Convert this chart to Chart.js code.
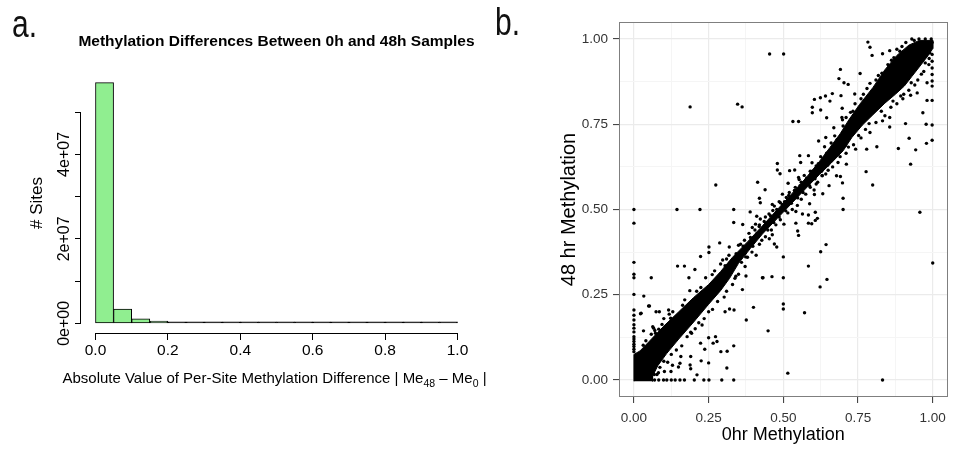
<!DOCTYPE html>
<html>
<head>
<meta charset="utf-8">
<script src="https://cdn.jsdelivr.net/npm/chart.js@4.4.0/dist/chart.umd.min.js"></script>
<style>
  html, body { margin: 0; padding: 0; background: #fff; }
  #wrap { position: relative; width: 953px; height: 452px; overflow: hidden;
          font-family: "Liberation Sans", Arial, Helvetica, sans-serif; }
  canvas { position: absolute; top: 0; }
  #histCanvas { left: 0; }
  #scatCanvas { left: 490px; }
  .panel-tag { position: absolute; font-size: 30px; line-height: 1; color: #111;
               transform-origin: 0 0; transform: scaleY(1.3); }
</style>
</head>
<body>
<div id="wrap">
  <canvas id="histCanvas" width="490" height="452"></canvas>
  <canvas id="scatCanvas" width="463" height="452"></canvas>
  <div class="panel-tag" style="left:12px; top:4px;">a.</div>
  <div class="panel-tag" style="left:495px; top:2px;">b.</div>
</div>
<script>
const FONT = '"Liberation Sans", Arial, Helvetica, sans-serif';
Chart.defaults.font.family = FONT;
Chart.defaults.color = '#000';

// ---------- panel a: histogram of |Me48 - Me0| (bin width 0.05) ----------
const diffBinCentres = [0.025, 0.075, 0.125, 0.175, 0.225, 0.275, 0.325, 0.375, 0.425, 0.475,
                        0.525, 0.575, 0.625, 0.675, 0.725, 0.775, 0.825, 0.875, 0.925, 0.975];
const siteCounts = [5.70e7, 3.4e6, 1.05e6, 5.5e5, 2.8e5, 1.4e5, 8e4, 6e4, 4e4, 3e4,
                    2e4, 1.5e4, 1.2e4, 1e4, 8e3, 7e3, 6e3, 5e3, 5e3, 6e3];
const diffTicks = [0, 0.2, 0.4, 0.6, 0.8, 1.0];
const countTicks = [0, 1e7, 2e7, 3e7, 4e7, 5e7];
const countTickLabels = ['0e+00', '', '2e+07', '', '4e+07', ''];

// ---------- panel b: per-site methylation, 0 hr vs 48 hr ----------
const methTicks = [0, 0.125, 0.25, 0.375, 0.5, 0.625, 0.75, 0.875, 1];

// outline of the over-plotted core where points merge into solid black [0hr, 48hr]
const denseBandOutline = [
  [0.0,-0.004],[0.0,0.075],[0.02,0.085],[0.05,0.112],[0.1,0.158],[0.15,0.2],[0.2,0.242],
  [0.25,0.28],[0.29,0.318],[0.33,0.36],[0.38,0.405],[0.43,0.452],[0.48,0.5],[0.53,0.548],
  [0.575,0.592],[0.62,0.64],[0.656,0.682],[0.69,0.722],[0.72,0.764],[0.755,0.808],[0.8,0.858],
  [0.84,0.91],[0.88,0.952],[0.92,0.982],[0.955,0.996],[1.0,0.996],
  [1.0,0.972],[0.985,0.952],[0.955,0.918],[0.93,0.89],[0.905,0.862],[0.875,0.838],[0.84,0.812],
  [0.8,0.778],[0.765,0.748],[0.73,0.712],[0.7,0.672],[0.66,0.636],[0.62,0.602],[0.58,0.566],
  [0.53,0.52],[0.48,0.474],[0.43,0.428],[0.39,0.386],[0.35,0.342],[0.32,0.298],[0.29,0.262],
  [0.25,0.222],[0.2,0.17],[0.15,0.12],[0.11,0.078],[0.08,0.042],[0.063,0.012],[0.062,-0.004]
];

// sites sitting on the 0 / 1 limits
const boundarySites = [
  [0,0.5],[0,0.46],[0,0.345],[0,0.31],[0,0.3],[0,0.251],[0,0.205],[0,0.19],[0,0.176],[0,0.162],
  [0,0.152],[0,0.141],[0,0.127],[0,0.12],[0,0.113],[0,0.105],[0,0.098],[0,0.09],[0,0.083],
  [0.069,0],[0.083,0],[0.099,0],[0.11,0],[0.125,0],[0.138,0],[0.154,0],[0.169,0],[0.202,0],
  [0.234,0],[0.251,0],[0.294,0],[0.334,0],[0.832,0],
  [0.998,0.99],[0.998,0.955],[0.998,0.935],[0.998,0.915],[0.998,0.896],[0.998,0.877],
  [0.998,0.862],[0.998,0.82],[0.998,0.748],[0.998,0.703],[1.0,0.343],
  [0.954,1.0],[0.975,1.0],[0.995,1.0]
];

// sites that gained methylation (48 hr above 0 hr)
const gainedSites = [
  [0.454,0.956],[0.501,0.956],[0.188,0.801],[0.347,0.809],[0.362,0.801],
  [0.783,0.991],[0.79,0.976],[0.797,0.952],[0.832,0.957],[0.856,0.966],[0.89,0.964],
  [0.691,0.911],[0.686,0.884],[0.703,0.872],[0.717,0.867],[0.757,0.899],[0.739,0.839],[0.693,0.834],
  [0.597,0.8],[0.597,0.784],[0.604,0.823],[0.624,0.828],[0.641,0.833],[0.664,0.84],[0.656,0.818],
  [0.625,0.792],[0.645,0.769],
  [0.532,0.758],[0.551,0.758],[0.697,0.797],[0.696,0.77],[0.669,0.74],[0.642,0.711],[0.618,0.701],
  [0.555,0.658],[0.584,0.658],[0.521,0.614],[0.538,0.616],[0.516,0.577],[0.551,0.594],[0.558,0.638],
  [0.48,0.635],[0.48,0.616],[0.489,0.605],[0.274,0.572],[0.414,0.58],[0.439,0.558],[0.42,0.533],
  [0.423,0.52],[0.463,0.515],[0.486,0.523],[0.504,0.523],
  [0.144,0.5],[0.221,0.5],[0.334,0.5],[0.334,0.462],[0.364,0.456],[0.389,0.493],[0.423,0.472],
  [0.407,0.457],[0.411,0.48],
  [0.146,0.334],[0.169,0.334],[0.184,0.3],[0.204,0.324],[0.223,0.362],[0.251,0.39],[0.251,0.374],
  [0.287,0.402],[0.319,0.39],[0.374,0.361],
  [0.058,0.3],[0.033,0.246],[0.052,0.217],[0.024,0.196],[0.074,0.2],[0.085,0.2],[0.116,0.205],
  [0.123,0.181],[0.063,0.156],[0.032,0.144],[0.072,0.137],[0.083,0.149],[0.022,0.194],[0.049,0.217],
  [0.066,0.152],[0.145,0.186]
];

// sites that lost methylation (48 hr below 0 hr)
const lostSites = [
  [0.228,0.161],[0.193,0.137],[0.375,0.305],[0.341,0.304],[0.363,0.265],[0.4,0.213],[0.376,0.176],
  [0.449,0.144],[0.432,0.3],[0.462,0.303],[0.5,0.3],[0.5,0.361],[0.5,0.223],[0.5,0.208],[0.515,0.02],
  [0.334,0.1],[0.311,0.035],[0.291,0.083],[0.312,0.084],[0.273,0.127],[0.25,0.124],[0.265,0.108],
  [0.237,0.09],[0.225,0.056],[0.211,0.015],[0.19,0.069],[0.157,0.069],[0.149,0.038],[0.129,0.043],
  [0.124,0.025],[0.102,0.025],[0.087,0.037],[0.223,0.108],[0.278,0.113],[0.571,0.197],[0.335,0.205],
  [0.32,0.208],[0.305,0.2],[0.25,0.05],[0.188,0.044],[0.19,0.033],[0.154,0.049],[0.077,0.016],
  [0.068,0.016],[0.43,0.3],
  [0.584,0.334],[0.623,0.273],[0.646,0.295],[0.625,0.376],[0.643,0.397],[0.777,0.611],[0.799,0.572],
  [0.926,0.633],[0.957,0.492],[0.7,0.533],[0.7,0.5],[0.691,0.597],[0.711,0.633],[0.607,0.492],
  [0.607,0.468],[0.595,0.458],[0.542,0.46],[0.551,0.424],[0.542,0.494],[0.478,0.39],[0.47,0.399],
  [0.463,0.426],[0.419,0.45],[0.61,0.575],[0.63,0.599],[0.548,0.437],[0.584,0.484],[0.584,0.46],
  [0.614,0.474],[0.564,0.487],
  [0.588,0.517],[0.604,0.544],[0.632,0.546],[0.653,0.57],[0.678,0.599],[0.698,0.578],[0.742,0.677],
  [0.779,0.677],[0.813,0.684],[0.79,0.726],[0.832,0.76],[0.856,0.77],[0.856,0.742],[0.885,0.679],
  [0.921,0.709],[0.909,0.752],[0.943,0.675],[0.979,0.694],[0.978,0.75],[0.967,0.784],[0.981,0.82],
  [0.987,0.925],[0.948,0.842],[0.981,0.872],[0.926,0.835],[0.893,0.833]
];

// ragged edge of the dense diagonal band
const bandEdgeSites = [
  [0.031,0.102],[0.058,0.134],[0.094,0.163],[0.118,0.193],[0.163,0.219],[0.187,0.262],[0.224,0.271],
  [0.262,0.309],[0.297,0.352],[0.318,0.366],[0.357,0.398],[0.396,0.447],[0.452,0.487],[0.497,0.545],
  [0.553,0.588],[0.596,0.637],[0.638,0.684],[0.672,0.716],[0.698,0.763],[0.733,0.788],[0.768,0.838],
  [0.818,0.893],[0.862,0.938],[0.897,0.978],[0.938,0.996],
  [0.082,0.021],[0.113,0.052],[0.142,0.088],[0.178,0.127],[0.217,0.168],[0.263,0.207],[0.302,0.243],
  [0.338,0.298],[0.372,0.333],[0.409,0.366],[0.453,0.414],[0.502,0.457],[0.547,0.512],[0.603,0.557],
  [0.642,0.604],[0.683,0.638],[0.718,0.683],[0.752,0.717],[0.787,0.752],[0.828,0.788],[0.867,0.818],
  [0.903,0.838],[0.928,0.872],[0.962,0.897],[0.988,0.943]
];

// loose points either side of the thinner middle stretch and the two dense clusters
const bandSpreadSites = [
  [0.35,0.395],[0.37,0.41],[0.385,0.43],[0.405,0.44],[0.42,0.455],[0.44,0.478],[0.465,0.497],
  [0.47,0.51],[0.49,0.52],[0.51,0.535],[0.52,0.55],[0.54,0.565],[0.56,0.58],[0.57,0.6],[0.59,0.612],
  [0.61,0.628],[0.625,0.655],[0.645,0.665],[0.66,0.695],[0.68,0.705],
  [0.36,0.345],[0.38,0.36],[0.395,0.375],[0.42,0.398],[0.44,0.42],[0.46,0.44],[0.475,0.455],
  [0.49,0.47],[0.515,0.49],[0.53,0.5],[0.56,0.53],[0.575,0.545],[0.59,0.565],[0.615,0.58],
  [0.63,0.6],[0.65,0.615],[0.665,0.625],[0.69,0.655],[0.71,0.665],
  [0.04,0.115],[0.07,0.145],[0.1,0.18],[0.13,0.2],[0.17,0.235],[0.21,0.26],[0.24,0.3],[0.27,0.32],
  [0.29,0.34],[0.31,0.355],
  [0.1,0.055],[0.125,0.075],[0.16,0.1],[0.19,0.14],[0.205,0.15],[0.235,0.18],[0.25,0.2],[0.28,0.23],
  [0.31,0.26],[0.33,0.28],[0.35,0.31],
  [0.7,0.745],[0.71,0.77],[0.725,0.785],[0.74,0.81],[0.76,0.825],[0.78,0.855],[0.79,0.87],[0.81,0.88],
  [0.83,0.9],[0.85,0.925],[0.87,0.945],[0.88,0.97],[0.91,0.99],[0.93,1.0],
  [0.735,0.69],[0.76,0.71],[0.775,0.735],[0.81,0.755],[0.84,0.775],[0.86,0.8],[0.88,0.81],[0.9,0.825],
  [0.92,0.85],[0.94,0.865],[0.95,0.88],[0.97,0.905],[0.975,0.93],[0.99,0.96]
];

// grainy middle stretch of the diagonal, between the two dense clusters
const midBandSites = [
  [0.305,0.335],[0.322,0.345],[0.342,0.37],[0.348,0.352],[0.366,0.392],[0.372,0.372],[0.39,0.418],
  [0.398,0.392],[0.412,0.43],[0.428,0.41],[0.436,0.465],[0.448,0.44],[0.457,0.482],[0.468,0.462],
  [0.478,0.5],[0.486,0.478],[0.497,0.515],[0.508,0.496],[0.518,0.541],[0.527,0.518],[0.537,0.556],
  [0.548,0.534],[0.556,0.57],[0.566,0.55],[0.578,0.592],[0.588,0.57],[0.597,0.612],[0.606,0.59],
  [0.617,0.634],[0.628,0.612],[0.638,0.652],[0.648,0.63],[0.657,0.672],[0.668,0.65],[0.677,0.69],
  [0.688,0.668],[0.697,0.706],[0.708,0.688]
];

const toXY = pairs => pairs.map(p => ({ x: p[0], y: p[1] }));

// ---------- base-graphics style axes, labels and titles for panel a ----------
function drawRunText(ctx, runs, cx, y, size) {
  let total = 0;
  runs.forEach(r => {
    ctx.font = (r.sub ? size * 0.7 : size) + 'px ' + FONT;
    r.w = ctx.measureText(r.t).width;
    total += r.w;
  });
  let x = cx - total / 2;
  ctx.textAlign = 'left';
  ctx.textBaseline = 'alphabetic';
  runs.forEach(r => {
    ctx.font = (r.sub ? size * 0.7 : size) + 'px ' + FONT;
    ctx.fillText(r.t, x, r.sub ? y + size * 0.25 : y);
    x += r.w;
  });
}

const baseAxes = {
  id: 'baseAxes',
  afterDraw(chart) {
    const { ctx, chartArea: a, scales: { x, y } } = chart;
    ctx.save();
    ctx.strokeStyle = '#000';
    ctx.lineWidth = 1;
    const xb = Math.round(a.bottom) + 0.5;
    ctx.beginPath();
    ctx.moveTo(x.getPixelForValue(diffTicks[0]), xb);
    ctx.lineTo(x.getPixelForValue(diffTicks[diffTicks.length - 1]), xb);
    ctx.stroke();
    const yl = Math.round(a.left) - 0.5;
    ctx.beginPath();
    ctx.moveTo(yl, y.getPixelForValue(countTicks[0]));
    ctx.lineTo(yl, y.getPixelForValue(countTicks[countTicks.length - 1]));
    ctx.stroke();

    ctx.fillStyle = '#000';
    ctx.textAlign = 'center';
    ctx.textBaseline = 'middle';
    ctx.font = '16px ' + FONT;
    countTicks.forEach((v, i) => {
      if (!countTickLabels[i]) return;
      ctx.save();
      ctx.translate(a.left - 16, y.getPixelForValue(v));
      ctx.rotate(-Math.PI / 2);
      ctx.fillText(countTickLabels[i], 0, 0);
      ctx.restore();
    });

    ctx.save();
    ctx.font = '17px ' + FONT;
    ctx.translate(a.left - 44, (a.top + a.bottom) / 2);
    ctx.rotate(-Math.PI / 2);
    ctx.fillText('# Sites', 0, 0);
    ctx.restore();

    ctx.font = 'bold 15.5px ' + FONT;
    ctx.fillText('Methylation Differences Between 0h and 48h Samples', (a.left + a.right) / 2, a.top - 31);

    drawRunText(ctx, [
      { t: 'Absolute Value of Per-Site Methylation Difference | Me' },
      { t: '48', sub: true },
      { t: ' \u2013 Me' },
      { t: '0', sub: true },
      { t: ' |' }
    ], (a.left + a.right) / 2 - 2, a.bottom + 50, 15);
    ctx.restore();
  }
};

// bins too small to show any fill are drawn as their outline only (a black line)
const binFill = c => siteCounts[c.dataIndex] < 3e5 ? '#000' : '#90EE90';

new Chart(document.getElementById('histCanvas'), {
  type: 'bar',
  data: {
    datasets: [{
      data: toXY(diffBinCentres.map((c, i) => [c, siteCounts[i]])),
      backgroundColor: binFill,
      borderColor: '#000',
      borderWidth: 1,
      borderSkipped: false,
      barPercentage: 1,
      categoryPercentage: 1,
      minBarLength: 1.5
    }]
  },
  options: {
    responsive: false,
    animation: false,
    devicePixelRatio: 1,
    layout: { padding: { top: 73, right: 18, bottom: 0, left: 0 } },
    plugins: { legend: { display: false }, tooltip: { enabled: false } },
    scales: {
      x: {
        type: 'linear', min: -0.04, max: 1.04, offset: false,
        afterBuildTicks: s => { s.ticks = diffTicks.map(v => ({ value: v })); },
        afterFit: s => { s.height = 119; },
        grid: { offset: false, drawOnChartArea: false, drawTicks: true, tickLength: 7,
                tickColor: '#000', tickWidth: 1 },
        border: { display: false },
        ticks: { autoSkip: false, maxRotation: 0, padding: 1, color: '#000', font: { size: 15.5 },
                 callback: v => Number(v).toFixed(1) }
      },
      y: {
        type: 'linear', min: -2.28e6, max: 5.928e7,
        afterBuildTicks: s => { s.ticks = countTicks.map(v => ({ value: v })); },
        afterFit: s => { s.width = 81; },
        grid: { drawOnChartArea: false, drawTicks: true, tickLength: 6, tickColor: '#000', tickWidth: 1 },
        border: { display: false },
        ticks: { display: false }
      }
    }
  },
  plugins: [baseAxes]
});

// ---------- panel b ----------
const isQuarter = v => Math.abs(v * 4 - Math.round(v * 4)) < 1e-6;
const gridColour = c => (c.tick && isQuarter(c.tick.value)) ? '#EBEBEB' : '#F5F5F5';
const gridWidth = c => (c.tick && isQuarter(c.tick.value)) ? 1.2 : 1;
const tickColour = c => (c.tick && isQuarter(c.tick.value)) ? '#333333' : 'rgba(0,0,0,0)';

const panelBorder = {
  id: 'panelBorder',
  afterDraw(chart) {
    const { ctx, chartArea: a } = chart;
    ctx.save();
    ctx.strokeStyle = '#7F7F7F';
    ctx.lineWidth = 1;
    ctx.strokeRect(Math.round(a.left) + 0.5, Math.round(a.top) + 0.5,
                   Math.round(a.right - a.left) - 1, Math.round(a.bottom - a.top) - 1);
    ctx.restore();
  }
};

function methAxis(size, title, titlePad, labelPad) {
  return {
    type: 'linear', min: -0.05, max: 1.05,
    afterBuildTicks: s => { s.ticks = methTicks.map(v => ({ value: v })); },
    grid: { color: gridColour, lineWidth: gridWidth, drawTicks: true, tickLength: 6,
            tickColor: tickColour, tickWidth: 1 },
    border: { display: false },
    ticks: { autoSkip: false, maxRotation: 0, minRotation: 0, padding: labelPad, color: '#333',
             font: { size: 13.5 }, callback: v => isQuarter(v) ? Number(v).toFixed(2) : '' },
    title: { display: true, text: title, color: '#000', font: { size: size }, padding: titlePad }
  };
}

const pointStyle = { pointRadius: 1.7, pointBackgroundColor: '#000', pointBorderWidth: 0,
                     pointHoverRadius: 1.7, showLine: false };

new Chart(document.getElementById('scatCanvas'), {
  type: 'scatter',
  data: {
    datasets: [
      { data: toXY(denseBandOutline), showLine: true, fill: 'shape', backgroundColor: '#000',
        borderColor: '#000', borderWidth: 1, pointRadius: 0, pointHoverRadius: 0 },
      Object.assign({ data: toXY(boundarySites) }, pointStyle),
      Object.assign({ data: toXY(gainedSites) }, pointStyle),
      Object.assign({ data: toXY(lostSites) }, pointStyle),
      Object.assign({ data: toXY(bandEdgeSites) }, pointStyle),
      Object.assign({ data: toXY(bandSpreadSites) }, pointStyle),
      Object.assign({ data: toXY(midBandSites) }, pointStyle)
    ]
  },
  options: {
    responsive: false,
    animation: false,
    devicePixelRatio: 1,
    layout: { padding: { top: 22, right: 3, bottom: 0, left: 0 } },
    plugins: { legend: { display: false }, tooltip: { enabled: false } },
    scales: {
      x: Object.assign(methAxis(18, '0hr Methylation', { top: 0, bottom: 6 }, 7),
                       { afterFit: s => { s.height = 55; } }),
      y: Object.assign(methAxis(20, '48 hr Methylation', { top: 67, bottom: 0 }, 5),
                       { afterFit: s => { s.width = 129; } })
    }
  },
  plugins: [panelBorder]
});
</script>
</body>
</html>
